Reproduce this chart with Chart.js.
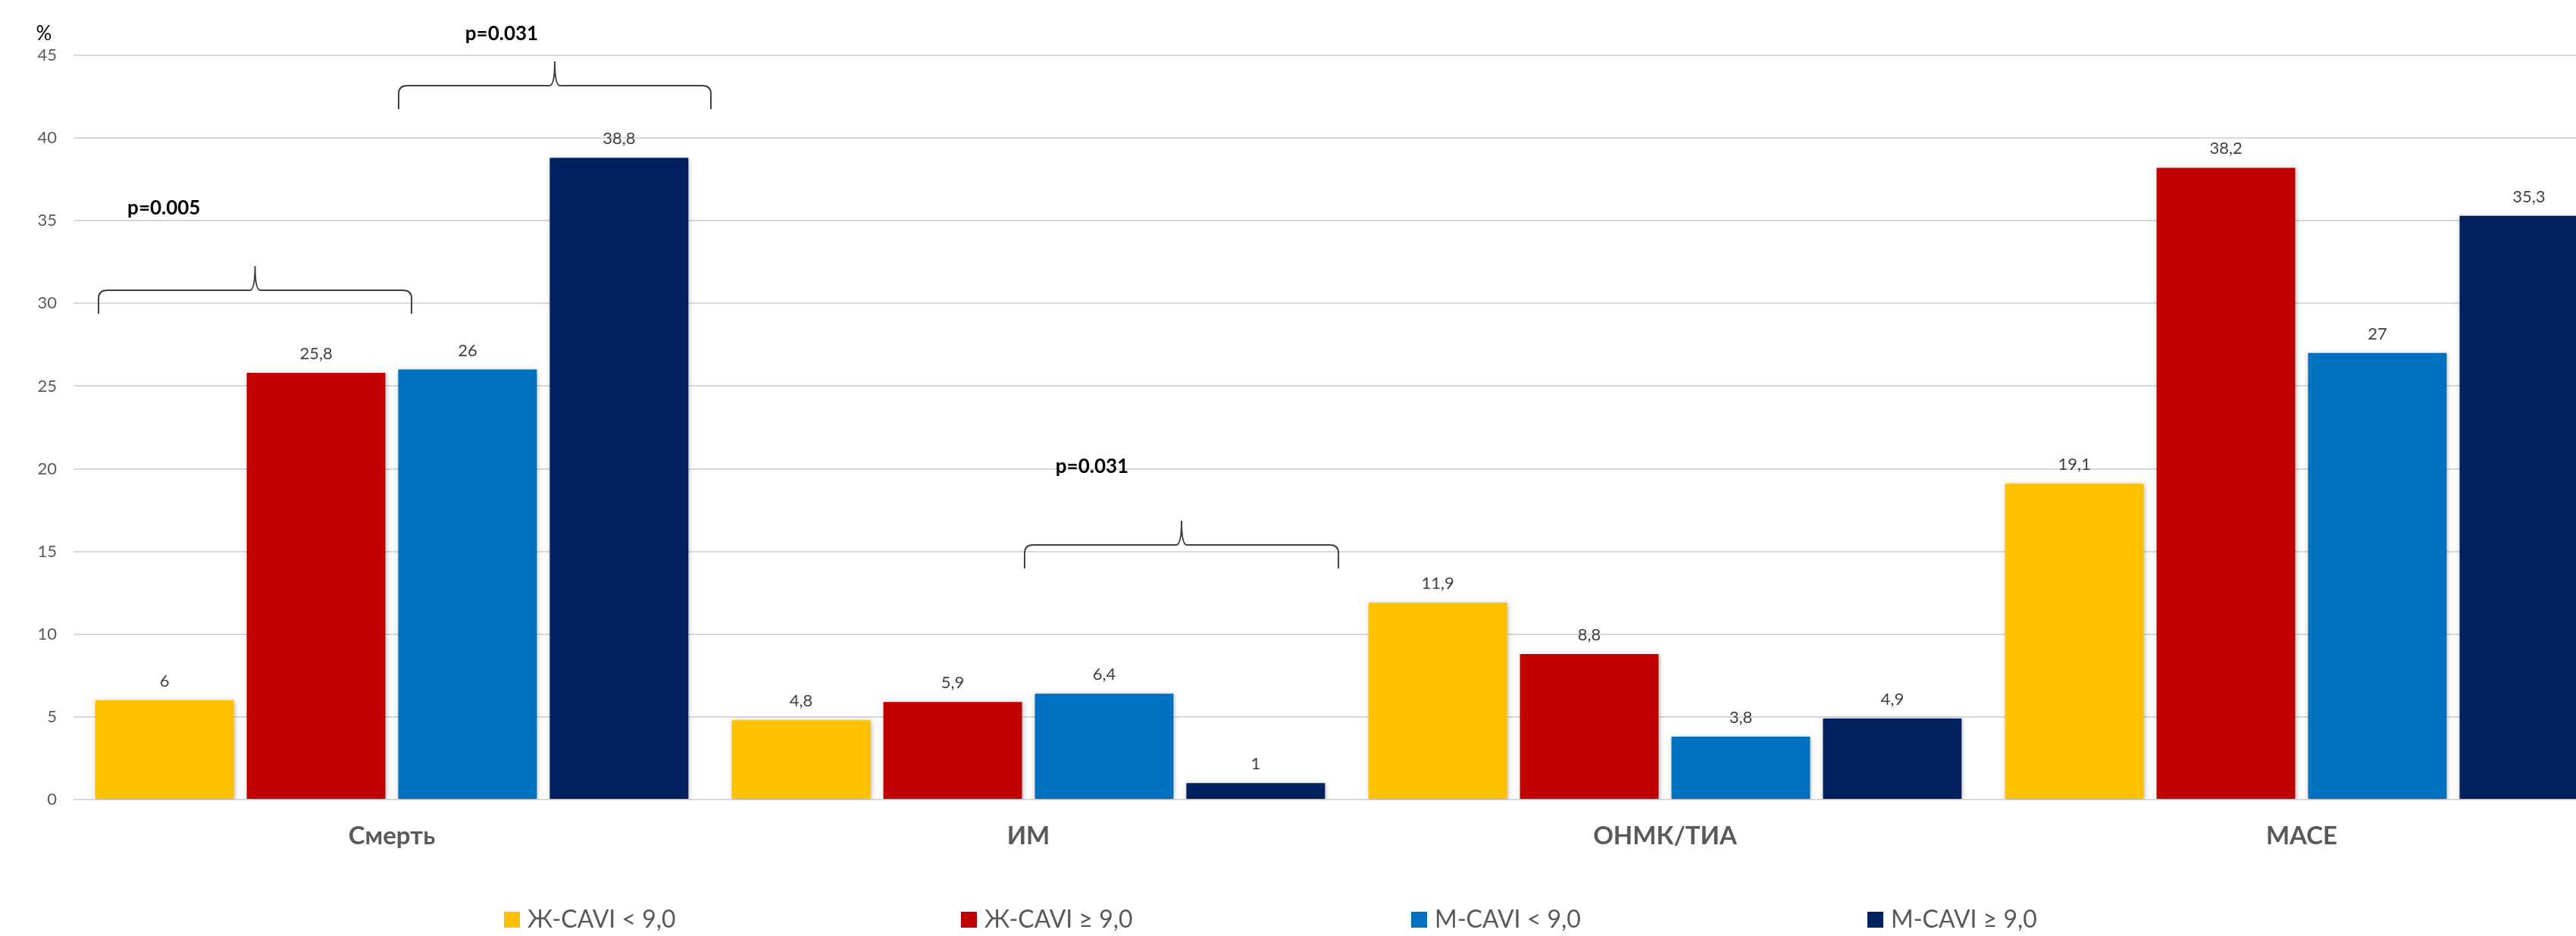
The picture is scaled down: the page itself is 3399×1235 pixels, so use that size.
<!DOCTYPE html>
<html><head><meta charset="utf-8">
<script src="https://cdn.jsdelivr.net/npm/chart.js@4.4.1/dist/chart.umd.min.js"></script>
<style>
html,body{margin:0;padding:0;overflow:hidden;background:#fff;width:3399px;height:1235px}
#wrap{position:absolute;left:0;top:0;width:3460px;height:1235px}
</style>
</head><body><div id="wrap"><canvas id="c" width="3460" height="1235"></canvas></div>
<script>
// ---- data ----
const categories = ['Смерть', 'ИМ', 'ОНМК/ТИА', 'MACE'];
const seriesNames = ['Ж-CAVI < 9,0', 'Ж-CAVI ≥ 9,0', 'М-CAVI < 9,0', 'М-CAVI ≥ 9,0'];
const femaleLow  = [6, 4.8, 11.9, 19.1];
const femaleHigh = [25.8, 5.9, 8.8, 38.2];
const maleLow    = [26, 6.4, 3.8, 27];
const maleHigh   = [38.8, 1, 4.9, 35.3];
const yTicks = [0, 5, 10, 15, 20, 25, 30, 35, 40, 45];
const pLabels = ['p=0.005', 'p=0.031', 'p=0.031'];
const yUnit = '%';

// ---- styles ----
const colors = ['#FFC000', '#C00000', '#0070C0', '#002060'];
const FONT = 'Lato, "Open Sans", sans-serif';

const seriesValues = [femaleLow, femaleHigh, maleLow, maleHigh];

// bracket geometry (category-index units on x, value units on y)
const bracketGeom = [
  {x0: -0.4607, x1: 0.031,  y: 30.8,  tx: -0.358, ty: 35.75},
  {x0: 0.0107,  x1: 0.5012, y: 43.17, tx: 0.1726, ty: 46.3},
  {x0: 0.994,   x1: 1.487,  y: 15.40, tx: 1.100,  ty: 20.12}
];

function fmt(v){ return String(v).replace('.', ','); }

const shadowPlugin = {
  id: 'shadow',
  beforeDatasetsDraw(chart){
    const ctx = chart.ctx;
    ctx.save();
    ctx.shadowColor = 'rgba(0,0,0,0.28)';
    ctx.shadowBlur = 6;
    ctx.shadowOffsetX = 1;
    ctx.shadowOffsetY = 1;
  },
  afterDatasetsDraw(chart){
    chart.ctx.restore();
  }
};

function brace(ctx, xl, xr, y, up, down){
  const xm = (xl + xr) / 2, r = 11, t = 7;
  ctx.beginPath();
  ctx.moveTo(xl, y + down);
  ctx.lineTo(xl, y + r);
  ctx.quadraticCurveTo(xl, y, xl + r, y);
  ctx.lineTo(xm - t, y);
  ctx.quadraticCurveTo(xm, y, xm, y - up);
  ctx.quadraticCurveTo(xm, y, xm + t, y);
  ctx.lineTo(xr - r, y);
  ctx.quadraticCurveTo(xr, y, xr, y + r);
  ctx.lineTo(xr, y + down);
  ctx.stroke();
}

const annotPlugin = {
  id: 'annot',
  afterDraw(chart){
    const ctx = chart.ctx;
    const xs = chart.scales.x, ys = chart.scales.y;
    ctx.save();
    // data labels
    ctx.font = '22px ' + FONT;
    ctx.fillStyle = '#404040';
    ctx.textAlign = 'center';
    ctx.textBaseline = 'middle';
    chart.data.datasets.forEach((ds, di) => {
      const meta = chart.getDatasetMeta(di);
      meta.data.forEach((bar, i) => {
        ctx.fillText(fmt(ds.data[i]), bar.x, bar.y - 25);
      });
    });
    // brackets
    ctx.strokeStyle = '#404040';
    ctx.lineWidth = 2;
    bracketGeom.forEach((g, k) => {
      const xl = xs.getPixelForValue(g.x0);
      const xr = xs.getPixelForValue(g.x1);
      const y = ys.getPixelForValue(g.y);
      brace(ctx, xl, xr, y, 32, 31);
      ctx.font = 'bold 26px ' + FONT;
      ctx.fillStyle = '#000';
      ctx.fillText(pLabels[k], xs.getPixelForValue(g.tx), ys.getPixelForValue(g.ty));
    });
    // unit label
    ctx.font = '26px ' + FONT;
    ctx.fillStyle = '#000';
    ctx.fillText(yUnit, 58, 45);
    // legend
    const legendX = [665, 1268, 1862, 2464];
    const legendY = 1213;
    ctx.textAlign = 'left';
    ctx.font = '32px ' + FONT;
    chart.data.datasets.forEach((ds, di) => {
      const x = legendX[di];
      ctx.fillStyle = ds.backgroundColor;
      ctx.fillRect(x, legendY - 10, 21, 21);
      ctx.fillStyle = '#595959';
      ctx.fillText(ds.label, x + 31, legendY + 1);
    });
    ctx.restore();
  }
};

new Chart(document.getElementById('c'), {
  type: 'bar',
  data: {
    labels: categories,
    datasets: seriesValues.map((vals, i) => ({
      label: seriesNames[i],
      data: vals,
      backgroundColor: colors[i],
      borderWidth: 0,
      categoryPercentage: 0.952,
      barPercentage: 0.915
    }))
  },
  options: {
    responsive: false,
    animation: false,
    devicePixelRatio: 1,
    layout: {padding: {top: 73, right: 3, left: 0, bottom: 0}},
    plugins: {legend: {display: false}, tooltip: {enabled: false}},
    scales: {
      x: {
        grid: {display: false, drawTicks: false},
        border: {display: false},
        ticks: {font: {family: FONT, size: 33, weight: 'bold'}, color: '#595959', padding: 29},
        afterFit(s){ s.height = 180; }
      },
      y: {
        min: 0, max: 45,
        afterBuildTicks(s){ s.ticks = yTicks.map(v => ({value: v})); },
        ticks: {font: {family: FONT, size: 22}, color: '#595959', padding: 22},
        grid: {color: '#d9d9d9', lineWidth: 2, drawTicks: false},
        border: {display: false},
        afterFit(s){ s.width = 97; }
      }
    }
  },
  plugins: [shadowPlugin, annotPlugin]
});
</script>
</body></html>
